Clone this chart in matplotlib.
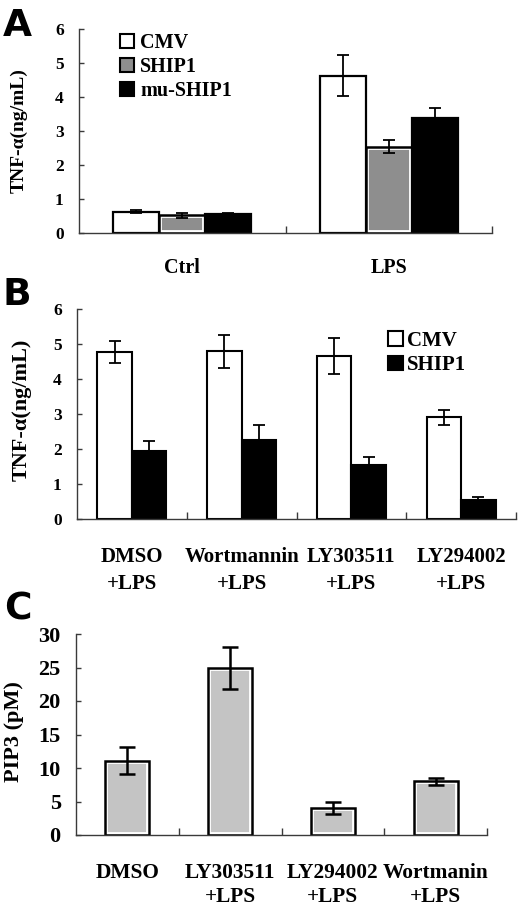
import matplotlib
matplotlib.use('Agg')
import matplotlib.pyplot as plt
import numpy as np
from matplotlib.patches import Patch

plt.rcParams['font.family'] = ['Liberation Serif', 'DejaVu Serif']
plt.rcParams['font.weight'] = 'bold'

# ---------------- data ----------------
# Panel A
a_categories = ['Ctrl', 'LPS']
a_cmv = [0.63, 4.63]
a_cmv_err = [0.04, 0.60]
a_ship1 = [0.52, 2.54]
a_ship1_err = [0.07, 0.20]
a_mu_ship1 = [0.56, 3.39]
a_mu_ship1_err = [0.04, 0.28]
a_yticks = [0, 1, 2, 3, 4, 5, 6]

# Panel B
b_categories = ['DMSO\n+LPS', 'Wortmannin\n+LPS', 'LY303511\n+LPS', 'LY294002\n+LPS']
b_cmv = [4.77, 4.79, 4.66, 2.91]
b_cmv_err = [0.31, 0.48, 0.52, 0.21]
b_ship1 = [1.94, 2.26, 1.54, 0.54]
b_ship1_err = [0.29, 0.42, 0.23, 0.09]
b_yticks = [0, 1, 2, 3, 4, 5, 6]

# Panel C
c_categories = ['DMSO', 'LY303511\n+LPS', 'LY294002\n+LPS', 'Wortmanin\n+LPS']
c_pip3 = [11.06, 24.9, 4.04, 8.0]
c_pip3_err = [2.0, 3.1, 0.85, 0.5]
c_yticks = [0, 5, 10, 15, 20, 25, 30]

W, H = 520, 911
fig = plt.figure(figsize=(W / 100, H / 100), dpi=100)


def px(x, y):
    return x / W, 1 - y / H


def axes_px(left, top, right, bottom):
    return fig.add_axes([left / W, 1 - bottom / H, (right - left) / W, (bottom - top) / H])


AXC = '#3a3a3a'


def style(ax, ncat, yticks, ticksize, catsize, catpad, linesp):
    ax.set_xlim(-0.5, ncat - 0.5)
    ax.set_ylim(yticks[0], yticks[-1])
    for s in ['top', 'right']:
        ax.spines[s].set_visible(False)
    for s in ['left', 'bottom']:
        ax.spines[s].set_color(AXC)
        ax.spines[s].set_linewidth(1.0)
    ax.set_yticks(yticks)
    ax.tick_params(axis='y', direction='in', length=3.5, width=1, color=AXC,
                   pad=11, labelsize=ticksize)
    ax.set_xticks(np.arange(ncat))
    ax.set_xticks(np.arange(ncat) + 0.5, minor=True)
    ax.tick_params(axis='x', which='major', length=0, pad=catpad, labelsize=catsize)
    ax.tick_params(axis='x', which='minor', direction='in', length=5, width=1, color=AXC)
    for lab in ax.get_xticklabels():
        lab.set_linespacing(linesp)


def gray_bars(ax, x, vals, width, color):
    bars = ax.bar(x, vals, width, color=color, edgecolor='white', linewidth=4.2, zorder=2)
    for b in bars:
        b.set_clip_path(b)
    ax.bar(x, vals, width, color='none', edgecolor='black', linewidth=1.8, zorder=2.5)


# ---------------- Panel A ----------------
axA = axes_px(79, 29, 492, 233)
xa = np.arange(len(a_categories))
wa = 0.223
axA.bar(xa - wa, a_cmv, wa, color='white', edgecolor='black', linewidth=1.6, zorder=2)
gray_bars(axA, xa, a_ship1, wa, '#8e8e8e')
axA.bar(xa + wa, a_mu_ship1, wa, color='black', edgecolor='black', linewidth=1.6, zorder=2)
for off, v, e in [(-wa, a_cmv, a_cmv_err), (0, a_ship1, a_ship1_err), (wa, a_mu_ship1, a_mu_ship1_err)]:
    axA.errorbar(xa + off, v, yerr=e, fmt='none', ecolor='black', elinewidth=1.3,
                 capsize=4, capthick=1.3, zorder=3)
axA.set_xticklabels(a_categories)
style(axA, len(a_categories), a_yticks, 12.5, 14.5, 18, 1.2)
handlesA = [Patch(facecolor='white', edgecolor='black', linewidth=1.5),
            Patch(facecolor='#8e8e8e', edgecolor='black', linewidth=1.5),
            Patch(facecolor='black', edgecolor='black', linewidth=1.5)]
fig.legend(handlesA, ['CMV', 'SHIP1', 'mu-SHIP1'], loc='upper left',
           bbox_to_anchor=px(120, 33), frameon=False, fontsize=14.5,
           handlelength=0.7, handleheight=0.7, handletextpad=0.3,
           labelspacing=0.2, borderpad=0, borderaxespad=0)
fig.text(*px(19, 131), 'TNF-α(ng/mL)', rotation=90, ha='center', va='center', fontsize=14)
fig.text(*px(3, 8), 'A', family='DejaVu Sans', weight='bold', fontsize=27, ha='left', va='top')

# ---------------- Panel B ----------------
axB = axes_px(77, 309, 516, 519)
xb = np.arange(len(b_categories))
wb = 0.314
axB.bar(xb - wb / 2, b_cmv, wb, color='white', edgecolor='black', linewidth=1.5, zorder=2)
axB.bar(xb + wb / 2, b_ship1, wb, color='black', edgecolor='black', linewidth=1.5, zorder=2)
axB.errorbar(xb - wb / 2, b_cmv, yerr=b_cmv_err, fmt='none', ecolor='black', elinewidth=1.3,
             capsize=4, capthick=1.3, zorder=3)
axB.errorbar(xb + wb / 2, b_ship1, yerr=b_ship1_err, fmt='none', ecolor='black', elinewidth=1.3,
             capsize=4, capthick=1.3, zorder=3)
axB.set_xticklabels(b_categories)
style(axB, len(b_categories), b_yticks, 12.5, 15, 20, 1.5)
handlesB = [Patch(facecolor='white', edgecolor='black', linewidth=1.5),
            Patch(facecolor='black', edgecolor='black', linewidth=1.5)]
fig.legend(handlesB, ['CMV', 'SHIP1'], loc='upper left',
           bbox_to_anchor=px(388, 331), frameon=False, fontsize=15,
           handlelength=0.7, handleheight=0.7, handletextpad=0.2,
           labelspacing=0.2, borderpad=0, borderaxespad=0)
fig.text(*px(22, 410), 'TNF-α(ng/mL)', rotation=90, ha='center', va='center', fontsize=16)
fig.text(*px(3, 277), 'B', family='DejaVu Sans', weight='bold', fontsize=27, ha='left', va='top')

# ---------------- Panel C ----------------
axC = axes_px(76, 634, 487, 835)
xc = np.arange(len(c_categories))
gray_bars(axC, xc, c_pip3, 0.43, '#c4c4c4')
axC.errorbar(xc, c_pip3, yerr=c_pip3_err, fmt='none', ecolor='black', elinewidth=1.8,
             capsize=6, capthick=1.8, zorder=3)
axC.set_xticklabels(c_categories)
style(axC, len(c_categories), c_yticks, 16, 15.4, 20, 1.3)
fig.text(*px(14, 732), 'PIP3 (pM)', rotation=90, ha='center', va='center', fontsize=16)
fig.text(*px(4, 592), 'C', family='DejaVu Sans', weight='bold', fontsize=27, ha='left', va='top')

fig.savefig('out.png', dpi=100)
